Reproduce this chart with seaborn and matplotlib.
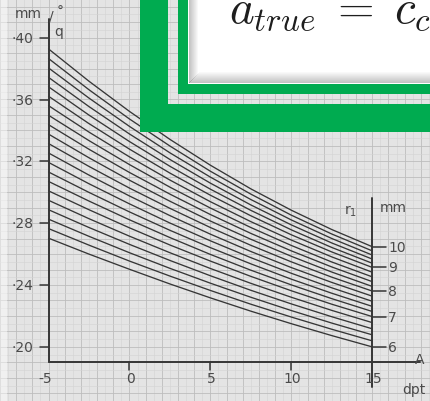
import numpy as np
import pandas as pd
import matplotlib
matplotlib.use('Agg')
import matplotlib.pyplot as plt
from matplotlib.patches import Rectangle
import seaborn as sns

# refraction values (dpt) at which each curve was read
dpt = [-5, -2.5, 0, 2.5, 5, 7.5, 10, 12.5, 15]

# q (mm/deg) along each curve, top curve (r1 = 10 mm) down to bottom (r1 = 6 mm)
q_curves = [
    [0.3927, 0.3718, 0.3523, 0.3342, 0.3175, 0.3022, 0.2884, 0.2759, 0.2648],
    [0.3865, 0.3663, 0.3474, 0.3299, 0.3136, 0.2988, 0.2852, 0.2730, 0.2621],
    [0.3804, 0.3609, 0.3426, 0.3255, 0.3098, 0.2953, 0.2821, 0.2701, 0.2594],
    [0.3743, 0.3554, 0.3377, 0.3212, 0.3059, 0.2918, 0.2789, 0.2672, 0.2568],
    [0.3682, 0.3499, 0.3328, 0.3168, 0.3020, 0.2883, 0.2757, 0.2643, 0.2541],
    [0.3621, 0.3444, 0.3279, 0.3124, 0.2981, 0.2848, 0.2725, 0.2614, 0.2514],
    [0.3560, 0.3389, 0.3229, 0.3079, 0.2939, 0.2810, 0.2691, 0.2582, 0.2483],
    [0.3498, 0.3334, 0.3179, 0.3033, 0.2898, 0.2772, 0.2656, 0.2549, 0.2453],
    [0.3437, 0.3278, 0.3128, 0.2988, 0.2856, 0.2734, 0.2621, 0.2517, 0.2422],
    [0.3376, 0.3223, 0.3078, 0.2942, 0.2814, 0.2696, 0.2586, 0.2484, 0.2391],
    [0.3315, 0.3167, 0.3027, 0.2896, 0.2772, 0.2657, 0.2550, 0.2451, 0.2361],
    [0.3254, 0.3111, 0.2976, 0.2849, 0.2729, 0.2617, 0.2513, 0.2417, 0.2328],
    [0.3193, 0.3055, 0.2925, 0.2801, 0.2686, 0.2577, 0.2476, 0.2382, 0.2295],
    [0.3131, 0.2999, 0.2873, 0.2754, 0.2642, 0.2537, 0.2438, 0.2347, 0.2262],
    [0.3070, 0.2943, 0.2822, 0.2707, 0.2598, 0.2496, 0.2401, 0.2312, 0.2229],
    [0.3009, 0.2887, 0.2770, 0.2659, 0.2555, 0.2456, 0.2363, 0.2276, 0.2196],
    [0.2948, 0.2829, 0.2716, 0.2609, 0.2507, 0.2411, 0.2321, 0.2236, 0.2157],
    [0.2887, 0.2772, 0.2663, 0.2559, 0.2460, 0.2366, 0.2278, 0.2195, 0.2117],
    [0.2826, 0.2715, 0.2609, 0.2508, 0.2412, 0.2321, 0.2235, 0.2154, 0.2078],
    [0.2765, 0.2658, 0.2555, 0.2458, 0.2365, 0.2276, 0.2193, 0.2114, 0.2039],
    [0.2703, 0.2600, 0.2502, 0.2407, 0.2317, 0.2231, 0.2150, 0.2073, 0.2000],
]

# left scale (q)
q_ticks = [0.20, 0.24, 0.28, 0.32, 0.36, 0.40]
q_labels = ['·20', '·24', '·28', '·32', '·36', '·40']

# bottom scale (A, dpt)
x_ticks = [0, 5, 10]
x_labels = ['-5', '0', '5', '10', '15']
x_label_pos = [-5, 0, 5, 10, 15]

# right scale (r1, mm) placed on the q axis at x = 15 dpt
r1_tick_q = [0.2000, 0.2196, 0.2361, 0.2514, 0.2648]
r1_labels = ['6', '7', '8', '9', '10']

formula = r'$a_{true}\;=\;c_c$'

rows = []
for i, qs in enumerate(q_curves):
    for d, q in zip(dpt, qs):
        rows.append({'curve': i, 'dpt': d, 'q': q})
df = pd.DataFrame(rows)

sns.set_style("white")
plt.rcParams['font.family'] = ['DejaVu Sans']
plt.rcParams['mathtext.fontset'] = 'cm'

W, H = 430, 402
fig = plt.figure(figsize=(W / 100, H / 100), dpi=100)

# data axes fill the whole figure (graph paper)
ax = fig.add_axes([0, 0, 1, 1])
ax.set_xlim(-7.892, 18.569)
ax.set_ylim(0.17431, 0.42018)
ax.set_facecolor('#e4e4e4')
ax.set_xticks(np.arange(-8, 19, 1))
ax.set_xticks(np.arange(-8, 19, 0.5), minor=True)
ax.set_yticks(np.arange(0.17, 0.43, 0.01))
ax.set_yticks(np.arange(0.165, 0.43, 0.005), minor=True)
ax.grid(True, which='major', color='#bdbdbd', lw=0.6)
ax.grid(True, which='minor', color='#d3d3d3', lw=0.4)
ax.tick_params(which='both', length=0, labelleft=False, labelbottom=False)
for s in ax.spines.values():
    s.set_visible(False)
ax.set_axisbelow(True)

line_col = '#363636'
sns.lineplot(data=df, x='dpt', y='q', hue='curve', units='curve', estimator=None,
             palette=[line_col] * len(q_curves), legend=False, lw=0.95, ax=ax)
ax.set_xlabel('')
ax.set_ylabel('')

px_x = 1 / 16.25   # dpt per pixel
px_y = 1 / 1635    # q per pixel
x_axis_q = 0.19021

# axis lines
ax.plot([-5, -5], [x_axis_q, 0.4122], color=line_col, lw=1.4)
ax.plot([-5, 17.95], [x_axis_q, x_axis_q], color=line_col, lw=1.4)
ax.plot([15, 15], [0.2960, 0.17431], color=line_col, lw=1.4)

txt = dict(color='#4a4a4a', fontsize=10)
for v, l in zip(q_ticks, q_labels):
    ax.plot([-5 - 9 * px_x, -5], [v, v], color=line_col, lw=1.1)
    ax.annotate(l, (-5, v), xytext=(-15, 0), textcoords='offset pixels',
                ha='right', va='center', **txt)
for d in x_ticks:
    ax.plot([d, d], [x_axis_q, x_axis_q - 8 * px_y], color=line_col, lw=1.1)
for d, l in zip(x_label_pos, x_labels):
    ax.annotate(l, (d, x_axis_q), xytext=(-3 if d == -5 else 1, -9),
                textcoords='offset pixels', ha='center', va='top', **txt)
for v, l in zip(r1_tick_q, r1_labels):
    ax.plot([15, 15 + 14 * px_x], [v, v], color=line_col, lw=1.1)
    ax.annotate(l, (15, v), xytext=(16, 0), textcoords='offset pixels',
                ha='left', va='center', **txt)

# overlay in pixel coordinates
ov = fig.add_axes([0, 0, 1, 1], facecolor='none')
ov.set_xlim(0, W)
ov.set_ylim(H, 0)
ov.axis('off')

ov.text(28, 14, 'mm', ha='center', va='center', **txt)
ov.text(49, 16, '/', ha='left', va='center', **txt)
ov.text(57, 12, '°', ha='left', va='center', **txt)
ov.text(54, 32, 'q', ha='left', va='center', **txt)
ov.text(351, 211, r'$\mathregular{r_1}$', ha='center', va='center', **txt)
ov.text(393, 208, 'mm', ha='center', va='center', **txt)
ov.text(414, 390, 'dpt', ha='center', va='center', **txt)
ov.text(420, 360, 'A', ha='center', va='center', **txt)

# faded scan edge on the left
ov.add_patch(Rectangle((0, 0), 7, H, color='white', alpha=0.45, lw=0))

green = '#00ab50'
ov.add_patch(Rectangle((140, 0), 28, 133, color=green, lw=0, zorder=5))
ov.add_patch(Rectangle((140, 105), W - 140, 28, color=green, lw=0, zorder=5))
ov.add_patch(Rectangle((178, 0), 10, 95, color=green, lw=0, zorder=5))
ov.add_patch(Rectangle((178, 85), W - 178, 10, color=green, lw=0, zorder=5))
ov.add_patch(Rectangle((188, 0), W - 188, 85, color='white', lw=0, zorder=6))

# soft shadow inside the white box
for k in range(9):
    a = 0.42 * (1 - k / 9)
    ov.add_patch(Rectangle((189 + k, 0), 1, 84 - k, color='#707070', alpha=a, lw=0, zorder=7))
for k in range(11):
    a = 0.42 * (1 - k / 11)
    ov.add_patch(Rectangle((189 + k, 83 - k), W - 189 - k, 1, color='#707070', alpha=a, lw=0, zorder=7))

ov.text(229, 23, formula, ha='left', va='baseline', fontsize=34, color='#1e1e1e', zorder=8)

fig.savefig('out.png', dpi=100)
